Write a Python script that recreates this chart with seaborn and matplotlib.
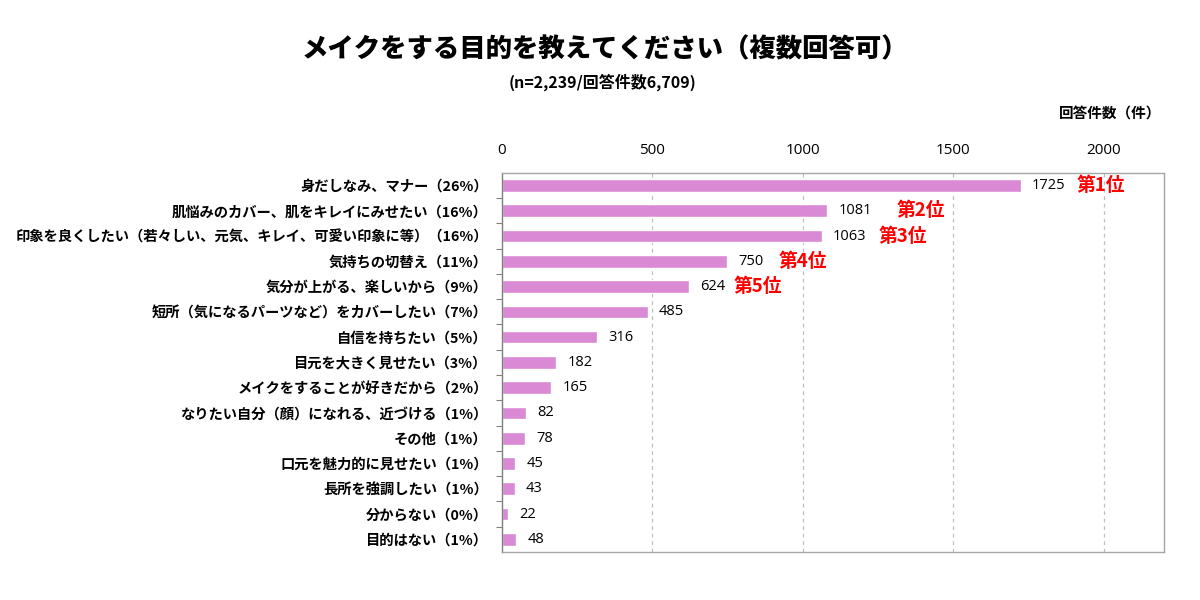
import numpy as np
import pandas as pd
import seaborn as sns
import matplotlib.pyplot as plt

# --- data ---
CATEGORIES = [
    '身だしなみ、マナー（26%）',
    '肌悩みのカバー、肌をキレイにみせたい（16%）',
    '印象を良くしたい（若々しい、元気、キレイ、可愛い印象に等）（16%）',
    '気持ちの切替え（11%）',
    '気分が上がる、楽しいから（9%）',
    '短所（気になるパーツなど）をカバーしたい（7%）',
    '自信を持ちたい（5%）',
    '目元を大きく見せたい（3%）',
    'メイクをすることが好きだから（2%）',
    'なりたい自分（顔）になれる、近づける（1%）',
    'その他（1%）',
    '口元を魅力的に見せたい（1%）',
    '長所を強調したい（1%）',
    '分からない（0%）',
    '目的はない（1%）',
]
COUNTS = [1725, 1081, 1063, 750, 624, 485, 316, 182, 165, 82, 78, 45, 43, 22, 48]
RANK_LABELS = ['第1位', '第2位', '第3位', '第4位', '第5位']

TITLE = 'メイクをする目的を教えてください（複数回答可）'
SUBTITLE = '(n=2,239/回答件数6,709)'
UNIT_LABEL = '回答件数（件）'
X_TICKS = [0, 500, 1000, 1500, 2000]

# styling
BAR_COLOR = '#DA8AD4'
RANK_OFFSETS = [40, 50, 41, 37, 32]  # points right of bar end

sns.set_theme(style='white')
plt.rcParams['font.family'] = ['Noto Sans CJK JP', 'DejaVu Sans']
plt.rcParams['text.color'] = 'black'
plt.rcParams['xtick.color'] = 'black'
plt.rcParams['ytick.color'] = 'black'

df = pd.DataFrame({'category': CATEGORIES, 'count': COUNTS})

fig = plt.figure(figsize=(12, 6), dpi=100)
ax = fig.add_axes([0.418, 0.08, 0.552, 0.632])

sns.barplot(data=df, y='category', x='count', orient='h', color=BAR_COLOR,
            width=0.5, saturation=1, ax=ax)

ax.set_xlim(0, 2200)
ax.set_ylim(len(CATEGORIES) - 0.5, -0.5)
ax.set_xticks(X_TICKS)
ax.xaxis.tick_top()
ax.tick_params(axis='x', length=0, pad=11, labelsize=11)
ax.tick_params(axis='y', which='major', length=0, pad=10)
ax.set_yticks(np.arange(0.5, len(CATEGORIES) - 1, 1), minor=True)
ax.tick_params(axis='y', which='minor', length=4, color='#808080', width=0.8, direction='out', left=True)
for lab in ax.get_yticklabels():
    lab.set_fontweight('bold')
    lab.set_fontsize(10.3)
for lab in ax.get_xticklabels():
    lab.set_family(['Open Sans', 'DejaVu Sans'])
ax.set_xlabel('')
ax.set_ylabel('')

for x in X_TICKS[1:]:
    ax.axvline(x, color='#BFBFBF', linestyle=(0, (3, 3)), linewidth=0.9, zorder=0)

for side in ['top', 'right', 'bottom']:
    ax.spines[side].set_color('#A6A6A6')
    ax.spines[side].set_linewidth(1.0)
ax.spines['left'].set_color('#7F7F7F')
ax.spines['left'].set_linewidth(1.0)

# value labels
for i, v in enumerate(COUNTS):
    ax.annotate(str(v), xy=(v, i), xytext=(8, 0), textcoords='offset points',
                va='center', ha='left', fontsize=10.5, color='black',
                family=['Open Sans', 'DejaVu Sans'])

# rank labels
for i, r in enumerate(RANK_LABELS):
    ax.annotate(r, xy=(COUNTS[i], i), xytext=(RANK_OFFSETS[i], 0), textcoords='offset points',
                va='center', ha='left', fontsize=13.5, fontweight='bold', color='#FF0000')

fig.text(0.504, 0.918, TITLE, ha='center', va='center', fontsize=19, fontweight='black')
fig.text(0.502, 0.863, SUBTITLE, ha='center', va='center', fontsize=11.5, fontweight='bold')
fig.text(0.968, 0.81, UNIT_LABEL, ha='right', va='center', fontsize=10.5, fontweight='bold')

fig.savefig('out.png', dpi=100)
